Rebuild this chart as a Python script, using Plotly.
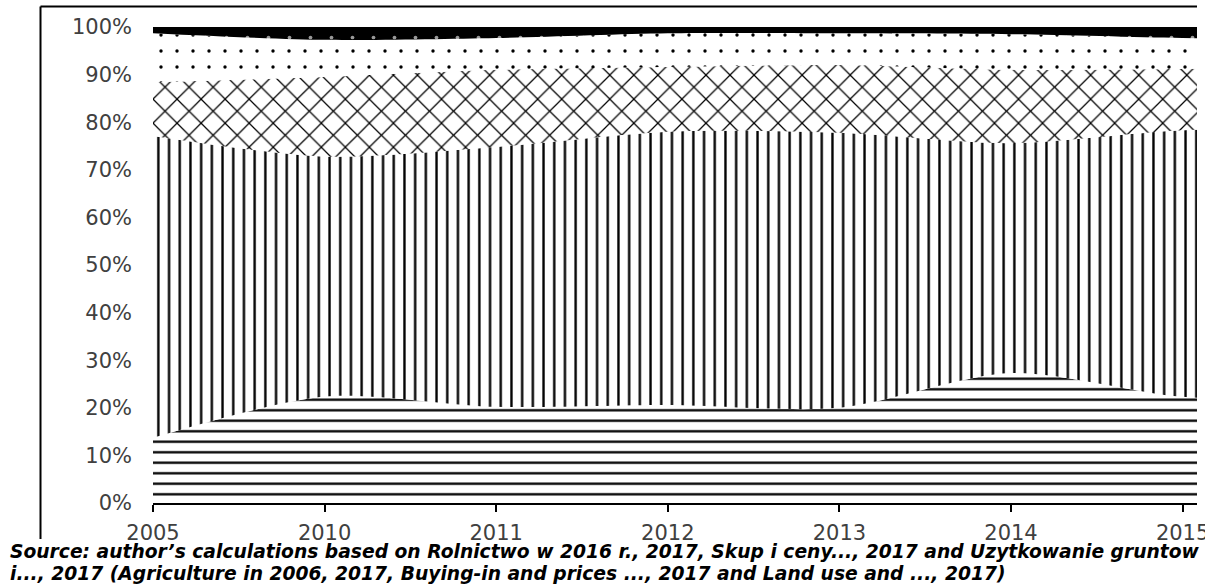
import plotly.graph_objects as go

years = ["2005", "2010", "2011", "2012", "2013", "2014", "2015", "2016"]
# shares (%) of each stacked layer, bottom to top
s1 = [13.7, 22.4, 20.2, 20.6, 20.0, 27.3, 22.3, 21.8]
s2 = [63.4, 50.4, 54.6, 57.4, 57.8, 48.3, 56.0, 56.8]
s3 = [11.3, 16.7, 16.2, 13.6, 14.2, 15.4, 12.9, 12.6]
s4 = [10.3, 7.8, 6.7, 7.1, 6.7, 7.5, 6.5, 6.0]
s5 = [1.3, 2.7, 2.3, 1.3, 1.3, 1.5, 2.3, 2.8]
y_ticks = [0, 10, 20, 30, 40, 50, 60, 70, 80, 90, 100]
y_tick_text = [f"{v}%" for v in y_ticks]
source_line1 = "Source: author’s calculations based on Rolnictwo w 2016 r., 2017, Skup i ceny..., 2017 and Uzytkowanie gruntow"
source_line2 = "i..., 2017 (Agriculture in 2006, 2017, Buying-in and prices ..., 2017 and Land use and ..., 2017)"

xi = list(range(len(years)))

patterns = [
    (s1, dict(shape="-", size=10.5, solidity=0.22, fgcolor="black", bgcolor="white", fgopacity=1)),
    (s2, dict(shape="|", size=10.7, solidity=0.22, fgcolor="black", bgcolor="white", fgopacity=1)),
    (s3, dict(shape="x", size=17, solidity=0.14, fgcolor="black", bgcolor="white", fgopacity=1)),
    (s4, dict(shape=".", size=16, solidity=0.035, fgcolor="black", bgcolor="white", fgopacity=1)),
    (s5, dict(shape=".", size=21, solidity=0.025, fgcolor="#999999", bgcolor="black", fgopacity=1)),
]

fig = go.Figure()
for vals, pat in patterns:
    fig.add_trace(go.Scatter(
        x=xi, y=vals, mode="lines", stackgroup="one",
        line=dict(width=0, shape="spline", smoothing=0.8, color="black"),
        fillcolor="rgba(0,0,0,1)",
        fillpattern=pat, showlegend=False, hoverinfo="skip",
    ))

# figure is a little wider than the 1205px window so the last tick label is cut by the window edge
W, H = 1215, 586
L, T = 153, 27
plot_right, plot_bottom = 1197, 503
R, B = W - plot_right, H - plot_bottom
pw, ph = W - L - R, H - T - B

def px(x):
    return (x - L) / pw

def py(y):
    return (plot_bottom - y) / ph

src_font = dict(family="DejaVu Sans", size=18.7, color="black", weight="bold", style="italic")

fig.update_layout(
    width=W, height=H,
    margin=dict(l=L, r=R, t=T, b=B, autoexpand=False),
    plot_bgcolor="white", paper_bgcolor="white",
    font=dict(family="DejaVu Sans", size=21, color="#404040"),
    xaxis=dict(
        range=[0, pw / 171.6], tickmode="array", tickvals=xi, ticktext=years,
        showgrid=False, zeroline=False, showline=True, linecolor="black", linewidth=1.5,
        ticks="outside", ticklen=7, tickcolor="black", tickwidth=1.5, automargin=False,
        ticklabelstandoff=3,
    ),
    yaxis=dict(
        range=[0, 100], tickmode="array", tickvals=y_ticks, ticktext=y_tick_text,
        showgrid=False, zeroline=False, showline=False, ticks="",
        ticklabelstandoff=20, automargin=False,
    ),
    shapes=[
        dict(type="line", xref="paper", yref="paper", x0=px(40.5), x1=px(40.5), y0=py(6.5), y1=py(539),
             line=dict(color="black", width=2)),
        dict(type="line", xref="paper", yref="paper", x0=px(40.5), x1=px(1197), y0=py(6.5), y1=py(6.5),
             line=dict(color="black", width=2)),
    ],
    annotations=[
        dict(text=source_line1, xref="paper", yref="paper", x=px(8), y=py(551), xanchor="left", yanchor="middle",
             showarrow=False, font=src_font),
        dict(text=source_line2, xref="paper", yref="paper", x=px(8), y=py(573), xanchor="left", yanchor="middle",
             showarrow=False, font=src_font),
    ],
)

fig.write_html("out.html", config={"displayModeBar": False},
               post_script="document.body.style.margin='0';document.body.style.overflow='hidden';")
